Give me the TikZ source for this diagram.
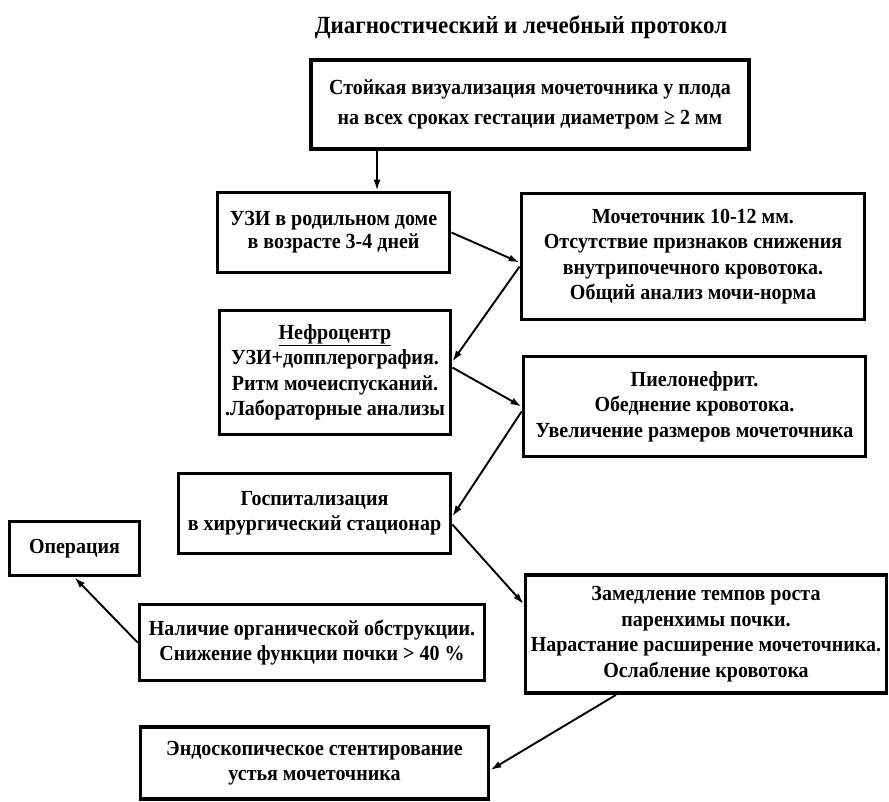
\documentclass[tikz,border=0pt]{standalone}
\usepackage{fontspec}
\setmainfont{Liberation Serif}[FakeStretch=0.93]
\usepackage{tikz}
\usetikzlibrary{arrows.meta,calc,positioning}

\tikzset{
  stepbox/.style={draw, line width=3.8pt, align=center, inner sep=2pt,
    font=\fontsize{21.5}{25.5}\selectfont\bfseries},
  arr/.style={-{Latex[length=11pt,width=7pt]}, line width=1.9pt},
}

\begin{document}
\begin{tikzpicture}[x=1pt, y=-1pt]
    \fill[white] (0,0) rectangle (889,801);
    \useasboundingbox (0,0) rectangle (889,801);
    \node[font=\fontsize{24.7}{28}\selectfont\bfseries, anchor=base] (title) at (521,33) {Диагностический и лечебный протокол};
    \node[stepbox, minimum width=438pt, minimum height=89pt] (vis) at (530,104.5) {
      Стойкая визуализация мочеточника у плода\\[4pt]
      на всех сроках гестации диаметром ≥ 2 мм
    };
    \node[stepbox, minimum width=232pt, minimum height=80pt, font=\fontsize{21.5}{23}\selectfont\bfseries] (uzi) at (333.5,232.5) {
      УЗИ в родильном доме\\
      в возрасте 3-4 дней
    };
    \node[stepbox, minimum width=343pt, minimum height=126pt] (norm) at (693,256.5) {
      Мочеточник 10-12 мм.\\
      Отсутствие признаков снижения\\
      внутрипочечного кровотока.\\
      Общий анализ мочи-норма
    };
    \node[stepbox, minimum width=231pt, minimum height=124pt] (nephro) at (335,372.5) {
      \underline{Нефроцентр}\\
      УЗИ+допплерография.\\
      Ритм мочеиспусканий.\\
      .Лабораторные анализы
    };
    \node[stepbox, minimum width=342pt, minimum height=100pt] (pyelo) at (694.5,406.5) {
      Пиелонефрит.\\
      Обеднение кровотока.\\
      Увеличение размеров мочеточника
    };
    \node[stepbox, minimum width=272pt, minimum height=80pt] (hosp) at (314.5,513.5) {
      Госпитализация\\
      в хирургический стационар
    };
    \node[stepbox, minimum width=361pt, minimum height=118pt] (slow) at (706,634) {
      Замедление темпов роста\\
      паренхимы почки.\\
      Нарастание расширение мочеточника.\\
      Ослабление кровотока
    };
    \node[stepbox, minimum width=130pt, minimum height=54pt] (oper) at (74.5,548.5) {Операция};
    \node[stepbox, minimum width=345pt, minimum height=76pt] (obstr) at (312,642.5) {
      Наличие органической обструкции.\\
      Снижение функции почки > 40 \%
    };
    \node[stepbox, minimum width=348pt, minimum height=72pt] (endo) at (314.5,763) {
      Эндоскопическое стентирование\\
      устья мочеточника
    };
    \draw[arr] (vis.south -| 377,0) -- (uzi.north -| 377,0);
    \draw[arr] (uzi.east) -- ($(norm.west)+(0,6)$);
    \draw[arr] ($(norm.west)+(0,10)$) -- ($(nephro.east)+(0,-11)$);
    \draw[arr] ($(nephro.east)+(0,-5)$) -- (pyelo.west);
    \draw[arr] ($(pyelo.west)+(0,5)$) -- ($(hosp.east)+(0,3)$);
    \draw[arr] ($(hosp.east)+(0,11)$) -- ($(slow.west)+(0,-30)$);
    \draw[arr] (obstr.west) -- (oper.south);
    \draw[arr] ($(slow.south)+(-90,0)$) -- ($(endo.east)+(0,7)$);
  \end{tikzpicture}
\end{document}
